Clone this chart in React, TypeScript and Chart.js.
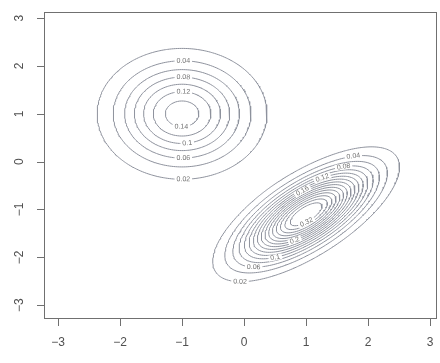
import React, { useEffect, useRef } from "react";
import { Chart, registerables } from "chart.js";

Chart.register(...registerables);

// Axis ticks and visible range
const xTicks = [-3, -2, -1, 0, 1, 2, 3];
const yTicks = [-3, -2, -1, 0, 1, 2, 3];
const xRange = [-3.226, 3.11];
const yRange = [-3.29, 3.13];

// Two-component bivariate normal mixture
const weights = [0.44, 0.58];
const meanX = [-1, 1];
const meanY = [1, -1.1];
const sdX = [0.68, 0.63];
const sdY = [0.68, 0.59];
const corr = [0, 0.7];

// Contour levels
const levels = [0.02, 0.04, 0.06, 0.08, 0.1, 0.12, 0.14, 0.16, 0.18, 0.2, 0.22, 0.24, 0.26, 0.28, 0.3, 0.32];

// Contour labels: level and approximate anchor (data units)
const labelLevels = [0.04, 0.08, 0.12, 0.14, 0.1, 0.06, 0.02, 0.04, 0.08, 0.12, 0.16, 0.32, 0.2, 0.1, 0.06, 0.02];
const labelAtX = [-0.97, -0.97, -0.97, -1.0, -0.92, -0.97, -0.97, 1.77, 1.63, 1.29, 0.95, 0.97, 0.85, 0.5, 0.16, -0.08];
const labelAtY = [2.04, 1.75, 1.45, 0.72, 0.38, 0.06, -0.44, 0.0, -0.25, -0.45, -0.65, -1.2, -1.75, -2.05, -2.3, -2.62];

type Pt = { x: number; y: number };

function density(x: number, y: number): number {
  let s = 0;
  for (let k = 0; k < weights.length; k++) {
    const dx = (x - meanX[k]) / sdX[k];
    const dy = (y - meanY[k]) / sdY[k];
    const r = corr[k];
    const q = (dx * dx - 2 * r * dx * dy + dy * dy) / (1 - r * r);
    s += (weights[k] / (2 * Math.PI * sdX[k] * sdY[k] * Math.sqrt(1 - r * r))) * Math.exp(-q / 2);
  }
  return s;
}

function buildGrid() {
  const nx = 220, ny = 220;
  const x0 = -3.5, x1 = 3.4, y0 = -3.6, y1 = 3.4;
  const xs: number[] = [], ys: number[] = [];
  for (let i = 0; i < nx; i++) xs.push(x0 + ((x1 - x0) * i) / (nx - 1));
  for (let j = 0; j < ny; j++) ys.push(y0 + ((y1 - y0) * j) / (ny - 1));
  const z: number[][] = ys.map((y) => xs.map((x) => density(x, y)));
  return { xs, ys, z };
}

function traceContours(level: number, xs: number[], ys: number[], z: number[][]): Pt[][] {
  const pts = new Map<string, Pt>();
  const adj = new Map<string, string[]>();
  const link = (a: string, b: string) => {
    if (!adj.has(a)) adj.set(a, []);
    if (!adj.has(b)) adj.set(b, []);
    adj.get(a)!.push(b);
    adj.get(b)!.push(a);
  };
  const ep = (key: string, xa: number, ya: number, va: number, xb: number, yb: number, vb: number) => {
    if (!pts.has(key)) {
      const t = (level - va) / (vb - va);
      pts.set(key, { x: xa + t * (xb - xa), y: ya + t * (yb - ya) });
    }
    return key;
  };
  for (let j = 0; j < ys.length - 1; j++) {
    for (let i = 0; i < xs.length - 1; i++) {
      const a = z[j][i], b = z[j][i + 1], c = z[j + 1][i + 1], d = z[j + 1][i];
      const cr: string[] = [];
      if (a > level !== b > level) cr.push(ep(`h${i},${j}`, xs[i], ys[j], a, xs[i + 1], ys[j], b));
      if (b > level !== c > level) cr.push(ep(`v${i + 1},${j}`, xs[i + 1], ys[j], b, xs[i + 1], ys[j + 1], c));
      if (d > level !== c > level) cr.push(ep(`h${i},${j + 1}`, xs[i], ys[j + 1], d, xs[i + 1], ys[j + 1], c));
      if (a > level !== d > level) cr.push(ep(`v${i},${j}`, xs[i], ys[j], a, xs[i], ys[j + 1], d));
      if (cr.length === 2) link(cr[0], cr[1]);
      else if (cr.length === 4) {
        link(cr[0], cr[1]);
        link(cr[2], cr[3]);
      }
    }
  }
  const visited = new Set<string>();
  const walk = (start: string): Pt[] => {
    const line: Pt[] = [pts.get(start)!];
    visited.add(start);
    let cur = start;
    while (true) {
      const nb = (adj.get(cur) || []).filter((k) => !visited.has(k));
      if (!nb.length) {
        if (line.length > 2 && (adj.get(cur) || []).includes(start)) line.push(pts.get(start)!);
        break;
      }
      cur = nb[0];
      visited.add(cur);
      line.push(pts.get(cur)!);
    }
    return line;
  };
  const lines: Pt[][] = [];
  for (const [k, nb] of adj) if (nb.length === 1 && !visited.has(k)) lines.push(walk(k));
  for (const k of adj.keys()) if (!visited.has(k)) lines.push(walk(k));
  return lines;
}

const fmtTick = (v: number) => (v < 0 ? "\u2212" + Math.abs(v) : String(v));

export default function App() {
  const ref = useRef<HTMLCanvasElement | null>(null);

  useEffect(() => {
    const canvas = ref.current;
    if (!canvas) return;
    const { xs, ys, z } = buildGrid();
    const contourLines = levels.map((lv) => traceContours(lv, xs, ys, z));
    const lineColor = "#8e929d";

    const datasets = contourLines.map((lines, idx) => ({
      label: String(levels[idx]),
      data: lines.flatMap((l) => [...l, { x: null as any, y: null as any }]),
      showLine: true,
      borderColor: lineColor,
      borderWidth: 1,
      pointRadius: 0,
      tension: 0,
      spanGaps: false,
    }));

    const axesPlugin = {
      id: "rAxes",
      afterDraw(chart: any) {
        const { ctx, chartArea } = chart;
        const xs_ = chart.scales.x, ys_ = chart.scales.y;
        ctx.save();
        ctx.strokeStyle = "#707070";
        ctx.lineWidth = 1;
        ctx.strokeRect(chartArea.left + 0.5, chartArea.top + 0.5, chartArea.right - chartArea.left - 1, chartArea.bottom - chartArea.top - 1);
        ctx.beginPath();
        for (const t of xTicks) {
          const px = Math.round(xs_.getPixelForValue(t)) + 0.5;
          ctx.moveTo(px, chartArea.bottom);
          ctx.lineTo(px, chartArea.bottom + 7);
        }
        for (const t of yTicks) {
          const py = Math.round(ys_.getPixelForValue(t)) + 0.5;
          ctx.moveTo(chartArea.left, py);
          ctx.lineTo(chartArea.left - 7, py);
        }
        ctx.stroke();
        ctx.fillStyle = "#505050";
        ctx.font = "12px 'Liberation Sans', Arial, sans-serif";
        ctx.textAlign = "center";
        ctx.textBaseline = "middle";
        for (const t of xTicks) {
          ctx.fillText(fmtTick(t), xs_.getPixelForValue(t), chartArea.bottom + 24);
        }
        for (const t of yTicks) {
          ctx.save();
          ctx.translate(chartArea.left - 24, ys_.getPixelForValue(t));
          ctx.rotate(-Math.PI / 2);
          ctx.fillText(fmtTick(t), 0, 0);
          ctx.restore();
        }
        ctx.restore();
      },
    };

    const labelsPlugin = {
      id: "contourLabels",
      afterDatasetsDraw(chart: any) {
        const { ctx } = chart;
        const sx = chart.scales.x, sy = chart.scales.y;
        ctx.save();
        ctx.font = "7px 'Liberation Sans', Arial, sans-serif";
        ctx.textAlign = "center";
        ctx.textBaseline = "middle";
        labelLevels.forEach((lv, i) => {
          const li = levels.findIndex((l) => Math.abs(l - lv) < 1e-9);
          if (li < 0) return;
          const ax = sx.getPixelForValue(labelAtX[i]);
          const ay = sy.getPixelForValue(labelAtY[i]);
          let best: { line: Pt[]; k: number } | null = null;
          let bd = Infinity;
          for (const line of contourLines[li]) {
            for (let k = 0; k < line.length; k++) {
              const px = sx.getPixelForValue(line[k].x);
              const py = sy.getPixelForValue(line[k].y);
              const d = (px - ax) ** 2 + (py - ay) ** 2;
              if (d < bd) {
                bd = d;
                best = { line, k };
              }
            }
          }
          if (!best) return;
          const { line, k } = best;
          const p = line[k];
          const a = line[Math.max(0, k - 2)];
          const b = line[Math.min(line.length - 1, k + 2)];
          const px = sx.getPixelForValue(p.x), py = sy.getPixelForValue(p.y);
          let ang = Math.atan2(sy.getPixelForValue(b.y) - sy.getPixelForValue(a.y), sx.getPixelForValue(b.x) - sx.getPixelForValue(a.x));
          if (ang > Math.PI / 2) ang -= Math.PI;
          if (ang < -Math.PI / 2) ang += Math.PI;
          const txt = String(lv);
          const w = ctx.measureText(txt).width;
          ctx.save();
          ctx.translate(px, py);
          ctx.rotate(ang);
          ctx.fillStyle = "#ffffff";
          ctx.fillRect(-w / 2 - 2, -3, w + 4, 6);
          ctx.fillStyle = "#707070";
          ctx.fillText(txt, 0, 0);
          ctx.restore();
        });
        ctx.restore();
      },
    };

    const chart = new Chart(canvas, {
      type: "scatter",
      data: { datasets: datasets as any },
      options: {
        animation: false,
        responsive: false,
        devicePixelRatio: 1,
        events: [],
        layout: { padding: { left: 44, right: 3, top: 12, bottom: 44 } },
        plugins: { legend: { display: false }, tooltip: { enabled: false } },
        scales: {
          x: { type: "linear", display: false, min: xRange[0], max: xRange[1] },
          y: { type: "linear", display: false, min: yRange[0], max: yRange[1] },
        },
      },
      plugins: [axesPlugin, labelsPlugin],
    });
    return () => chart.destroy();
  }, []);

  return (
    <div style={{ position: "absolute", left: 0, top: 0, width: 440, height: 363, background: "#fff" }}>
      <canvas ref={ref} width={440} height={363} style={{ width: 440, height: 363, display: "block" }} />
    </div>
  );
}
